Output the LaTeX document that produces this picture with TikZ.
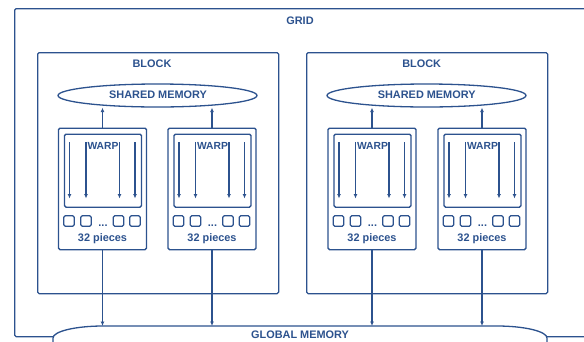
\documentclass[tikz,border=0pt]{standalone}
\usepackage{fontspec}
\setmainfont{Liberation Sans}
\usetikzlibrary{arrows.meta,shapes.geometric}
\definecolor{cb}{RGB}{44,82,142}
\newcommand\warpunit[2]{%
  \node[box, minimum width=88pt, minimum height=121.5pt, anchor=north] (#1) at (#2,127.5) {};
  \node[box, minimum width=77pt, minimum height=73pt, anchor=north] (#1i) at (#2+0.5,133.5) {};
  \foreach \dx in {-33,-16.5,17,32.5} \draw[arr] (#2+\dx,142) -- (#2+\dx,198.5);
  \node[lbl, font=\bfseries\fontsize{10.3}{12}\selectfont, anchor=base] (#1w) at (#2+0.5,149.3) {WARP};
  \foreach \dx [count=\k] in {-33.5,-16.5,16,32.5} \node[sq] (#1s\k) at (#2+\dx,221) {};
  \node[lbl, anchor=base] (#1d) at (#2+0.5,226) {...};
  \node[lbl, anchor=base] (#1p) at (#2,241.5) {32 pieces};
}
\begin{document}
\begin{tikzpicture}[x=1pt,y=-1pt,
  line/.style={draw=cb, line width=1.3pt},
  lbl/.style={text=cb, font=\bfseries\fontsize{10.9}{13}\selectfont, inner sep=0pt},
  box/.style={line, rounded corners=1.5pt, inner sep=0pt},
  arr/.style={draw=cb, line width=1.2pt, -{Latex[length=4.5pt,width=4pt]}},
  sq/.style={line, rounded corners=1.5pt, minimum size=10.5pt, inner sep=0pt},
  ]
\useasboundingbox (0,0) rectangle (584,341);
\clip (0,0) rectangle (584,341);
% grid
\node[box, minimum width=600pt, minimum height=328pt, anchor=north west] (grid) at (14,8) {};
\node[lbl, anchor=base] (gridl) at (300,24) {GRID};
% blocks
\node[box, minimum width=241pt, minimum height=241pt, anchor=north west] (b1) at (37,52) {};
\node[box, minimum width=241pt, minimum height=241pt, anchor=north west] (b2) at (306,52) {};
\node[lbl, anchor=base] (b1l) at (152,67.7) {BLOCK};
\node[lbl, anchor=base] (b2l) at (421.7,67.7) {BLOCK};
% shared memories
\node[ellipse, line, fill=white, minimum width=199pt, minimum height=23pt, inner sep=0pt] (sm1) at (157.5,95.5) {};
\node[ellipse, line, fill=white, minimum width=199pt, minimum height=23pt, inner sep=0pt] (sm2) at (426.5,95.5) {};
\node[lbl, anchor=base] (sm1l) at (158,98.5) {SHARED MEMORY};
\node[lbl, anchor=base] (sm2l) at (426.7,98.5) {SHARED MEMORY};
% warps
\warpunit{wa}{102.5}
\warpunit{wb}{212}
\warpunit{wc}{372}
\warpunit{wd}{482}
% global memory
\draw[line, fill=white] (53,350) -- (53,338) .. controls (53,331.4) and (75.4,326) .. (103,326)
  -- (497,326) .. controls (524.6,326) and (547,331.4) .. (547,338) -- (547,350);
\coordinate (gmtop) at (300,326);
\node[lbl, anchor=base] (gm) at (300,338.5) {GLOBAL MEMORY};
% connectors
\foreach \w/\s in {wa/sm1,wb/sm1,wc/sm2,wd/sm2} {
  \draw[arr] (\w.north) -- (\w.north |- \s.south);
  \draw[arr] (\w.south) -- (\w.south |- gmtop);
}
\end{tikzpicture}
\end{document}
